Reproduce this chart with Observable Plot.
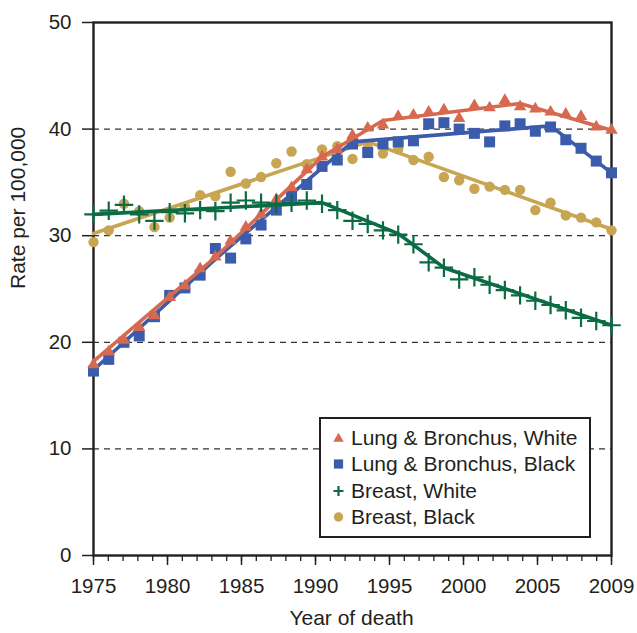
<!DOCTYPE html>
<html>
<head>
<meta charset="utf-8">
<script src="https://cdn.jsdelivr.net/npm/d3@7"></script>
<script src="https://cdn.jsdelivr.net/npm/@observablehq/plot@0.6"></script>
<style>
  html, body { margin: 0; padding: 0; background: #fff; }
  #wrap { position: relative; width: 637px; height: 633px; font-family: 'Liberation Sans', Arial, Helvetica, sans-serif; color: #231f20; }
  #legend { position: absolute; left: 319px; top: 417px; width: 272px; height: 121px; box-sizing: border-box; border: 2.5px solid #231f20; background: #fff; }
  .row { position: absolute; left: 0; height: 26px; line-height: 26px; font-size: 21px; white-space: nowrap; }
  .row svg { position: absolute; left: 10px; top: 6px; }
  .row span { position: absolute; left: 30px; top: 0; }
</style>
</head>
<body>
<div id="wrap"></div>
<script>
// ---- data ----
const years = [1975,1976,1977,1978,1979,1980,1981,1982,1983,1984,1985,1986,1987,1988,1989,1990,1991,1992,1993,1994,1995,1996,1997,1998,1999,2000,2001,2002,2003,2004,2005,2006,2007,2008,2009];

const lungWhite  = [17.9,19.1,20.2,21.4,22.5,24.2,25.3,26.9,28.0,29.5,30.8,32.0,33.4,34.5,36.2,37.4,38.1,39.4,40.1,40.4,41.2,41.3,41.6,41.8,41.0,42.2,42.0,42.7,42.1,41.9,41.6,41.4,41.2,40.2,39.9];
const lungBlack  = [17.3,18.4,20.0,20.6,22.4,24.4,25.1,26.3,28.8,27.9,29.7,31.0,32.4,33.7,34.8,36.5,37.1,38.6,37.8,38.6,38.8,38.9,40.5,40.6,40.0,39.6,38.8,40.3,40.5,39.8,40.2,39.0,38.2,37.0,35.9];
const breastWhite= [32.0,32.35,32.9,32.0,31.4,32.2,32.1,32.4,32.3,33.1,33.3,33.1,33.0,33.1,33.3,33.0,32.4,31.4,31.1,30.5,30.1,29.2,27.5,27.0,25.9,26.1,25.4,24.9,24.4,23.9,23.5,23.0,22.3,22.0,21.6];
const breastBlack= [29.4,30.5,33.0,32.3,30.8,31.7,32.7,33.8,33.7,36.0,34.9,35.5,36.8,37.9,36.7,38.1,38.4,37.2,38.2,37.7,38.1,37.1,37.4,35.5,35.2,34.4,34.6,34.3,34.3,32.4,33.1,31.9,31.7,31.25,30.5];

// fitted (joinpoint) trend lines
const lungWhiteFitYears   = [1975, 1983, 1990, 1994, 2003, 2009];
const lungWhiteFit        = [18.2, 28.0, 37.4, 40.8, 42.4, 39.9];
const lungBlackFitYears   = [1975, 1983, 1992, 2005, 2009];
const lungBlackFit        = [17.4, 27.8, 38.8, 40.3, 35.9];
const breastWhiteFitYears = [1975, 1990, 1995, 1998, 2009];
const breastWhiteFit      = [32.0, 33.1, 30.2, 27.0, 21.6];
const breastBlackFitYears = [1975, 1993, 2009];
const breastBlackFit      = [30.2, 38.8, 30.6];

const seriesNames  = ["Lung & Bronchus, White", "Lung & Bronchus, Black", "Breast, White", "Breast, Black"];
const seriesColors = ["#d6694f", "#3b5bab", "#0b6b45", "#c7a552"];

// axis ticks
const yTicks = [0, 10, 20, 30, 40, 50];
const gridValues = [10, 20, 30, 40];
const xTickLabels = ["1975", "1980", "1985", "1990", "1995", "2000", "2005", "2009"];
// the original axis divides its width into 35 equal steps, labelled every 5, the last one "2009"
const axisSteps = 35;
const firstYear = years[0], lastYear = years[years.length - 1];
const stepToX = s => firstYear + s * (lastYear - firstYear) / axisSteps;
const minorTicks = d3.range(0, axisSteps + 1).map(stepToX);
const majorTicks = xTickLabels.map((_, i) => stepToX(i * 5));
const majorLabel = d => xTickLabels[Math.round((d - firstYear) * axisSteps / (lastYear - firstYear) / 5)];

const pts = vals => years.map((y, i) => ({year: y, v: vals[i]}));
const fit = (ys, vs) => ys.map((y, i) => ({year: y, v: vs[i]}));

const chart = Plot.plot({
  width: 637,
  height: 633,
  marginLeft: 93,
  marginRight: 26,
  marginTop: 22,
  marginBottom: 78,
  style: {fontFamily: "'Liberation Sans', Arial, Helvetica, sans-serif", fontSize: "20.5px", color: "#231f20", background: "#fff", overflow: "visible"},
  x: {domain: [firstYear, lastYear]},
  y: {domain: [0, 50]},
  marks: [
    Plot.gridY(gridValues, {stroke: "#333", strokeOpacity: 1, strokeDasharray: "6,5", strokeWidth: 1.3}),
    Plot.frame({stroke: "#231f20", strokeWidth: 2.4}),
    Plot.axisY({ticks: yTicks, tickSize: 11, tickPadding: 11, label: null, strokeWidth: 1.5, fontSize: 20.5}),
    Plot.axisX({ticks: minorTicks, tickSize: 6, tickFormat: () => "", label: null, strokeWidth: 1.3}),
    Plot.axisX({ticks: majorTicks, tickSize: 10, tickPadding: 13, tickFormat: majorLabel, label: null, strokeWidth: 1.5, fontSize: 20.5}),
    Plot.text(["Rate per 100,000"], {frameAnchor: "left", dx: -75, rotate: -90, fontSize: 21, fill: "#231f20"}),
    Plot.text(["Year of death"], {frameAnchor: "bottom", dy: 69, dx: -1, fontSize: 21, fill: "#231f20"}),

    // Breast, Black
    Plot.line(fit(breastBlackFitYears, breastBlackFit), {x: "year", y: "v", stroke: seriesColors[3], strokeWidth: 3.6}),
    Plot.dot(pts(breastBlack), {x: "year", y: "v", symbol: "circle", r: 5.2, fill: seriesColors[3], stroke: "none"}),
    // Lung, Black
    Plot.line(fit(lungBlackFitYears, lungBlackFit), {x: "year", y: "v", stroke: seriesColors[1], strokeWidth: 3.6}),
    Plot.dot(pts(lungBlack), {x: "year", y: "v", symbol: "square", r: 6.2, fill: seriesColors[1], stroke: "none"}),
    // Lung, White
    Plot.line(fit(lungWhiteFitYears, lungWhiteFit), {x: "year", y: "v", stroke: seriesColors[0], strokeWidth: 3.6}),
    Plot.dot(pts(lungWhite), {x: "year", y: "v", symbol: "triangle", r: 4.6, fill: seriesColors[0], stroke: "none"}),
    // Breast, White
    Plot.line(fit(breastWhiteFitYears, breastWhiteFit), {x: "year", y: "v", stroke: seriesColors[2], strokeWidth: 3.6}),
    Plot.dot(pts(breastWhite), {x: "year", y: "v", symbol: "plus", r: 6, stroke: seriesColors[2], strokeWidth: 2.2})
  ]
});

const wrap = document.getElementById("wrap");
wrap.appendChild(chart);

// legend
const legend = document.createElement("div");
legend.id = "legend";
const symbolSvg = [
  c => `<svg width="15" height="14" viewBox="-7.5 -7 15 14"><path d="M0,-5.2L5.2,3.8L-5.2,3.8Z" fill="${c}"/></svg>`,
  c => `<svg width="15" height="14" viewBox="-7.5 -7 15 14"><rect x="-4.6" y="-4.6" width="9.2" height="9.2" fill="${c}"/></svg>`,
  c => `<svg width="15" height="14" viewBox="-7.5 -7 15 14"><path d="M-5,0H5M0,-5V5" stroke="${c}" stroke-width="2.2"/></svg>`,
  c => `<svg width="15" height="14" viewBox="-7.5 -7 15 14"><circle r="4.7" fill="${c}"/></svg>`
];
seriesNames.forEach((name, i) => {
  const row = document.createElement("div");
  row.className = "row";
  row.style.top = (21.3 - 2.5 + i * 26.35 - 13) + "px";
  row.innerHTML = symbolSvg[i](seriesColors[i]) + `<span>${name}</span>`;
  legend.appendChild(row);
});
wrap.appendChild(legend);
</script>
</body>
</html>
